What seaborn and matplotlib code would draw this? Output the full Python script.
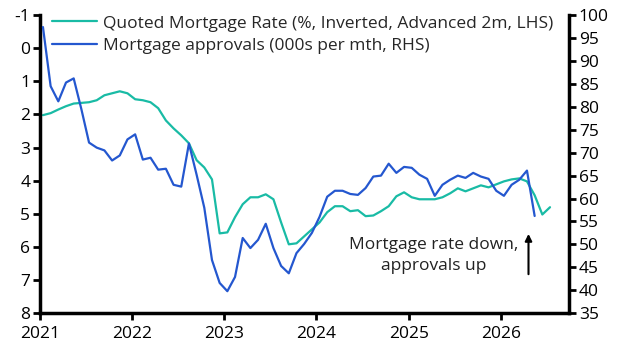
import numpy as np
import pandas as pd
import matplotlib
matplotlib.use('Agg')
import matplotlib.pyplot as plt
import seaborn as sns

# quoted mortgage rate (%, inverted, advanced 2m), monthly from Jan 2021
rate = [2.02, 1.96, 1.85, 1.75, 1.67, 1.65, 1.63, 1.57, 1.42, 1.36, 1.30, 1.36,
        1.54, 1.57, 1.63, 1.81, 2.18, 2.42, 2.63, 2.87, 3.38, 3.60, 3.96, 5.59,
        5.56, 5.10, 4.71, 4.50, 4.50, 4.41, 4.56, 5.26, 5.92, 5.89, 5.68, 5.47,
        5.26, 4.95, 4.77, 4.77, 4.92, 4.89, 5.07, 5.05, 4.92, 4.77, 4.47, 4.35,
        4.50, 4.56, 4.56, 4.56, 4.50, 4.38, 4.23, 4.32, 4.23, 4.14, 4.20, 4.11,
        4.02, 3.96, 3.93, 4.02, 4.44, 5.02, 4.80]

# mortgage approvals (000s per month), monthly from Jan 2021
approvals = [97.4, 84.5, 81.2, 85.3, 86.2, 79.5, 72.2, 71.1, 70.5, 68.3, 69.4, 72.9,
             74.0, 68.5, 68.9, 66.3, 66.5, 63.0, 62.6, 72.0, 65.2, 58.0, 46.6, 41.6,
             39.8, 42.9, 51.4, 49.2, 51.0, 54.5, 49.2, 45.3, 43.7, 48.1, 50.1, 52.5,
             56.0, 60.4, 61.7, 61.7, 61.0, 60.8, 62.3, 64.8, 65.0, 67.6, 65.6, 66.9,
             66.7, 65.2, 64.3, 60.6, 63.0, 64.1, 65.0, 64.5, 65.6, 64.8, 64.3, 61.7,
             60.6, 63.0, 64.1, 66.1, 56.2]

years = [2021, 2022, 2023, 2024, 2025, 2026]
left_ticks = list(range(-1, 9))
right_ticks = list(range(35, 101, 5))

teal = '#19BBA5'
blue = '#2457CF'

df_rate = pd.DataFrame({'date': 2021 + (np.arange(len(rate)) + 0.4) / 12, 'val': rate})
df_appr = pd.DataFrame({'date': 2021 + (np.arange(len(approvals)) + 0.4) / 12, 'val': approvals})

sns.set_style('white')
plt.rcParams['font.family'] = ['Open Sans', 'DejaVu Sans']
plt.rcParams['font.size'] = 12.5
plt.rcParams['axes.unicode_minus'] = False

fig = plt.figure(figsize=(6.33, 3.6), dpi=100)
ax = fig.add_axes([0.063, 0.13, 0.836, 0.828])
ax2 = ax.twinx()

sns.lineplot(data=df_rate, x='date', y='val', ax=ax, color=teal, linewidth=1.6,
             label='Quoted Mortgage Rate (%, Inverted, Advanced 2m, LHS)', legend=False)
sns.lineplot(data=df_appr, x='date', y='val', ax=ax2, color=blue, linewidth=1.6,
             label='Mortgage approvals (000s per mth, RHS)', legend=False)

ax.set_xlim(2021, 2026.74)
ax.set_ylim(8, -1)
ax.set_yticks(left_ticks)
ax.set_xticks(years)
ax.set_xticklabels([str(y) for y in years])
ax2.set_ylim(35, 100)
ax2.set_yticks(right_ticks)
ax.set_xlabel('')
ax.set_ylabel('')
ax2.set_ylabel('')

for a in (ax, ax2):
    for s in a.spines.values():
        s.set_visible(False)
    a.tick_params(colors='black', width=2, length=5, labelsize=12.5, pad=2)
    a.grid(False)
ax.spines['left'].set_visible(True)
ax.spines['bottom'].set_visible(True)
ax2.spines['right'].set_visible(True)
for s in (ax.spines['left'], ax.spines['bottom'], ax2.spines['right']):
    s.set_color('black')
    s.set_linewidth(2.5)
ax.tick_params(axis='x', bottom=True, pad=4)
ax.tick_params(axis='y', left=True)
ax2.tick_params(axis='y', right=True)

h1, l1 = ax.get_legend_handles_labels()
h2, l2 = ax2.get_legend_handles_labels()
ax2.legend(h1 + h2, l1 + l2, loc='upper left', bbox_to_anchor=(0.0, 1.04),
           frameon=False, fontsize=12.5, handlelength=2.6, handletextpad=0.35,
           labelspacing=0.35, borderaxespad=0.3)

ax2.text(2025.27, 47.6, 'Mortgage rate down,\napprovals up', ha='center', va='center',
         fontsize=12.5, color='#222222', linespacing=1.45)
ax2.annotate('', xy=(2026.3, 52.9), xytext=(2026.3, 42.9),
             arrowprops=dict(arrowstyle='-|>', color='black', lw=1.5, mutation_scale=10))

fig.savefig('out.png', dpi=100)
